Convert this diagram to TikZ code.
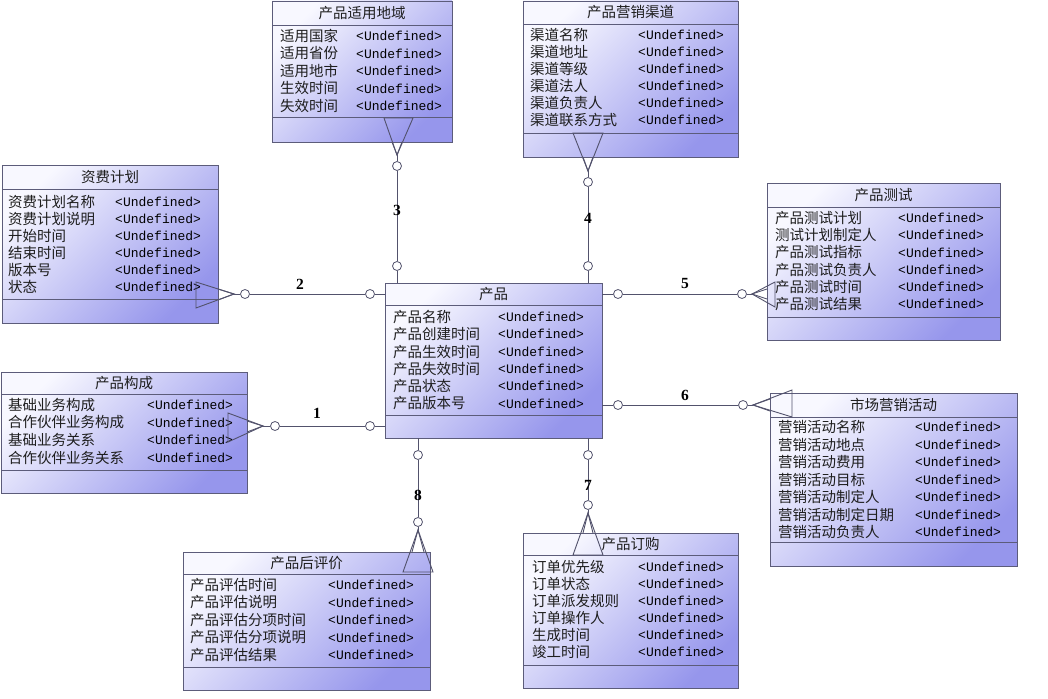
\documentclass[tikz,border=0pt]{standalone}
\usepackage{fontspec}
\setmainfont{Liberation Serif}
\newfontfamily\cjk{Noto Sans CJK SC}
\newfontfamily\monof{Liberation Mono}
\definecolor{boxlight}{RGB}{248,248,255}
\definecolor{boxdark}{RGB}{150,150,236}
\definecolor{edge}{RGB}{92,92,122}
\definecolor{lnk}{RGB}{82,82,108}
\definecolor{txt}{RGB}{30,30,30}
\tikzset{
  entity/.style={draw=edge, line width=0.9pt, top color=boxlight, bottom color=boxdark,
    shading angle=45, anchor=north west, inner sep=0pt, outer sep=0pt},
  sepline/.style={draw=edge, line width=0.9pt},
  ttl/.style={font=\cjk\fontsize{14.5}{15}\selectfont, text=txt, inner sep=0pt},
  an/.style={font=\cjk\fontsize{14.5}{15}\selectfont, text=txt, anchor=west, inner sep=0pt},
  av/.style={font=\monof\fontsize{13}{14}\selectfont, text=black, anchor=west, inner sep=0pt},
  ring/.style={circle, draw=lnk, fill=white, line width=0.8pt, minimum size=9pt, inner sep=0pt},
  link/.style={draw=lnk, line width=0.9pt},
  num/.style={font=\bfseries\fontsize{15.5}{15.5}\selectfont, text=black, inner sep=0pt},
}
% name, x1, y1, x2, y2, header y, separator y, title
\newcommand\ent[8]{%
  \node[entity, minimum width={(#4-#2)*1pt}, minimum height={(#5-#3)*1pt}] (#1) at (#2,#3) {};
  \draw[sepline] (#2,#6) -- (#4,#6);
  \draw[sepline] (#2,#7) -- (#4,#7);
  \node[ttl] (#1-t) at ({(#2+#4)/2},{(#3+#6)/2}) {#8};
}
% prefix, x name, x value, y0, pitch, list
\newcommand\rows[6]{%
  \foreach \nm [count=\i] in {#6} {
    \node[an] (#1-n\i) at (#2,{#4+(\i-1)*#5}) {\nm};
    \node[av] (#1-v\i) at (#3,{#4+(\i-1)*#5}) {<Undefined>};
  }
}
\begin{document}
\begin{tikzpicture}[x=1pt,y=-1pt]
\useasboundingbox (0,0) rectangle (1048,698);

% ---------- entities ----------
\ent{A}{272}{1}{452}{142}{25}{117}{产品适用地域}
\rows{A}{280}{356}{36}{17.5}{适用国家,适用省份,适用地市,生效时间,失效时间}

\ent{B}{523}{1}{738}{157}{24}{133}{产品营销渠道}
\rows{B}{530}{638}{35}{17}{渠道名称,渠道地址,渠道等级,渠道法人,渠道负责人,渠道联系方式}

\ent{C}{2}{165}{218}{323}{189}{299}{资费计划}
\rows{C}{8}{115}{202}{17}{资费计划名称,资费计划说明,开始时间,结束时间,版本号,状态}

\ent{D}{767}{183}{1000}{340}{207}{317}{产品测试}
\rows{D}{775}{898}{218}{17.2}{产品测试计划,测试计划制定人,产品测试指标,产品测试负责人,产品测试时间,产品测试结果}

\ent{E}{385}{283}{602}{438}{305}{415}{产品}
\rows{E}{393}{498}{317}{17.3}{产品名称,产品创建时间,产品生效时间,产品失效时间,产品状态,产品版本号}

\ent{F}{1}{372}{247}{493}{394}{470}{产品构成}
\rows{F}{8}{147}{405}{17.5}{基础业务构成,合作伙伴业务构成,基础业务关系,合作伙伴业务关系}

\ent{G}{770}{393}{1017}{566}{417}{542}{市场营销活动}
\rows{G}{778}{915}{427}{17.5}{营销活动名称,营销活动地点,营销活动费用,营销活动目标,营销活动制定人,营销活动制定日期,营销活动负责人}

\ent{H}{183}{552}{430}{690}{574}{667}{产品后评价}
\rows{H}{190}{328}{585}{17.5}{产品评估时间,产品评估说明,产品评估分项时间,产品评估分项说明,产品评估结果}

\ent{I}{523}{533}{738}{688}{555}{665}{产品订购}
\rows{I}{532}{638}{567}{17}{订单优先级,订单状态,订单派发规则,订单操作人,生成时间,竣工时间}

% ---------- connector 1 (E - F) ----------
\node[ring] (c1a) at (370,426) {};
\node[ring] (c1b) at (275,426) {};
\coordinate (a1) at (263,426);
\coordinate (t1a) at (228,413); \coordinate (t1b) at (228,442);
\coordinate (i1a) at (247,421); \coordinate (i1b) at (247,432);
\draw[link] (E.west |- c1a) -- (c1a) -- (c1b) -- (a1);
\draw[link] (t1a) -- (a1) -- (t1b) -- cycle;
\draw[link] (i1a) -- (a1) -- (i1b);
\node[num] (l1) at (317,413) {1};

% ---------- connector 2 (E - C) ----------
\node[ring] (c2a) at (370,294) {};
\node[ring] (c2b) at (245,294) {};
\coordinate (a2) at (234,294);
\coordinate (t2a) at (196,282); \coordinate (t2b) at (196,308);
\coordinate (i2a) at (218,289); \coordinate (i2b) at (218,300);
\draw[link] (E.west |- c2a) -- (c2a) -- (c2b) -- (a2);
\draw[link] (t2a) -- (a2) -- (t2b) -- cycle;
\draw[link] (i2a) -- (a2) -- (i2b);
\node[num] (l2) at (300,284) {2};

% ---------- connector 3 (E - A) ----------
\node[ring] (c3a) at (397,266) {};
\node[ring] (c3b) at (397,166) {};
\coordinate (a3) at (397,155);
\coordinate (t3a) at (384,118); \coordinate (t3b) at (413,118);
\coordinate (i3a) at (392,142); \coordinate (i3b) at (402,142);
\draw[link] (E.north -| c3a) -- (c3a) -- (c3b) -- (a3);
\draw[link] (t3a) -- (a3) -- (t3b) -- cycle;
\draw[link] (i3a) -- (a3) -- (i3b);
\node[num] (l3) at (397,210) {3};

% ---------- connector 4 (E - B) ----------
\node[ring] (c4a) at (588,266) {};
\node[ring] (c4b) at (588,182) {};
\coordinate (a4) at (588,171);
\coordinate (t4a) at (573,133); \coordinate (t4b) at (603,133);
\coordinate (i4a) at (583,157); \coordinate (i4b) at (593,157);
\draw[link] (E.north -| c4a) -- (c4a) -- (c4b) -- (a4);
\draw[link] (t4a) -- (a4) -- (t4b) -- cycle;
\draw[link] (i4a) -- (a4) -- (i4b);
\node[num] (l4) at (588,218) {4};

% ---------- connector 5 (E - D) ----------
\node[ring] (c5a) at (618,294) {};
\node[ring] (c5b) at (742,294) {};
\coordinate (a5) at (752,294);
\coordinate (t5a) at (775,282); \coordinate (t5b) at (775,307);
\coordinate (i5a) at (767,289); \coordinate (i5b) at (767,299);
\draw[link] (E.east |- c5a) -- (c5a) -- (c5b) -- (a5);
\draw[link] (t5a) -- (a5) -- (t5b) -- cycle;
\draw[link] (i5a) -- (a5) -- (i5b);
\node[num] (l5) at (685,283) {5};

% ---------- connector 6 (E - G) ----------
\node[ring] (c6a) at (618,405) {};
\node[ring] (c6b) at (743,405) {};
\coordinate (a6) at (753,405);
\coordinate (t6a) at (792,390); \coordinate (t6b) at (792,417);
\coordinate (i6a) at (770,399); \coordinate (i6b) at (770,411);
\draw[link] (E.east |- c6a) -- (c6a) -- (c6b) -- (a6);
\draw[link] (t6a) -- (a6) -- (t6b) -- cycle;
\draw[link] (i6a) -- (a6) -- (i6b);
\node[num] (l6) at (685,395) {6};

% ---------- connector 7 (E - I) ----------
\node[ring] (c7a) at (588,455) {};
\node[ring] (c7b) at (588,505) {};
\coordinate (a7) at (588,513);
\coordinate (t7a) at (573,555); \coordinate (t7b) at (603,555);
\coordinate (i7a) at (583,533); \coordinate (i7b) at (593,533);
\draw[link] (E.south -| c7a) -- (c7a) -- (c7b) -- (a7);
\draw[link] (t7a) -- (a7) -- (t7b) -- cycle;
\draw[link] (i7a) -- (a7) -- (i7b);
\node[num] (l7) at (588,485) {7};

% ---------- connector 8 (E - H) ----------
\node[ring] (c8a) at (418,455) {};
\node[ring] (c8b) at (418,522) {};
\coordinate (a8) at (418,530);
\coordinate (t8a) at (403,572); \coordinate (t8b) at (433,572);
\coordinate (i8a) at (412,552); \coordinate (i8b) at (424,552);
\draw[link] (E.south -| c8a) -- (c8a) -- (c8b) -- (a8);
\draw[link] (t8a) -- (a8) -- (t8b) -- cycle;
\draw[link] (i8a) -- (a8) -- (i8b);
\node[num] (l8) at (418,495) {8};
\end{tikzpicture}
\end{document}
